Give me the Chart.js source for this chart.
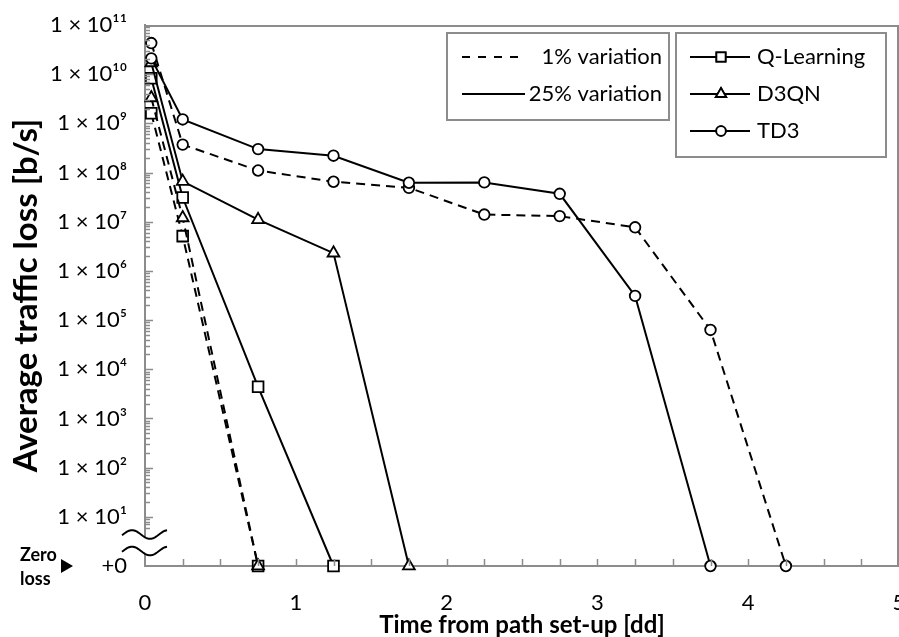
<!DOCTYPE html>
<html><head><meta charset="utf-8">
<script src="https://cdn.jsdelivr.net/npm/chart.js@4.4.1/dist/chart.umd.min.js"></script>
<style>
html,body{margin:0;padding:0;background:#fff;overflow:hidden;width:899px;height:637px;}
#wrap{position:relative;width:920px;height:637px;}
</style></head><body>
<div id="wrap"><canvas id="c"></canvas></div>
<script>
// ---- data (x in days, y in b/s; 0 = zero loss) ----
const timeDays = [1/24, 0.25, 0.75, 1.25, 1.75, 2.25, 2.75, 3.25, 3.75, 4.25];
const td3Var25 = [2.1e10, 1.2e9, 3.0e8, 2.2e8, 6.2e7, 6.3e7, 3.7e7, 3.1e5, 0];
const td3Var1  = [4.3e10, 3.7e8, 1.1e8, 6.5e7, 4.9e7, 1.4e7, 1.3e7, 7.7e6, 6.3e4, 0];
const d3qnVar25 = [1.7e10, 6.6e7, 1.1e7, 2.3e6, 0];
const d3qnVar1  = [3.3e9, 1.2e7, 0];
const qlVar25 = [8.3e9, 3.1e7, 4.4e3, 0];
const qlVar1  = [1.6e9, 5.1e6, 0];
const yTickExponents = [0,1,2,3,4,5,6,7,8,9,10,11];
const xTickValues = [0,1,2,3,4,5];
const seriesNames = ['Q-Learning','D3QN','TD3'];
const variationNames = ['1% variation','25% variation'];
const xTitle = 'Time from path set-up [dd]';
const yTitle = 'Average traffic loss [b/s]';

const ZERO_LEVEL = 1; // "+0" row of the log axis
const FONT = "Lato, 'DejaVu Sans', sans-serif";
const SUP = '⁰¹²³⁴⁵⁶⁷⁸⁹';
function sup(n){ return String(n).split('').map(d=>SUP[+d]).join(''); }
function pts(vals){ return vals.map((v,i)=>({x: timeDays[i], y: v===0 ? ZERO_LEVEL : v})); }

const DASH = [9,6];
function ds(label, vals, style, radius, dashed){
  return {label, data: pts(vals), borderColor:'#000', borderWidth:2, borderDash: dashed?DASH:[],
    pointStyle: style, pointRadius: radius, pointHoverRadius: radius, pointBackgroundColor:'#fff',
    pointBorderColor:'#000', pointBorderWidth:1.8, tension:0, fill:false, clip:false};
}

const decor = {
  id:'decor',
  afterDraw(chart){
    const ctx = chart.ctx, a = chart.chartArea, xs = chart.scales.x, ys = chart.scales.y;
    ctx.save();
    // top/right frame
    ctx.strokeStyle = '#8c8c8c'; ctx.lineWidth = 2;
    ctx.beginPath(); ctx.moveTo(a.left, a.top+1); ctx.lineTo(a.right-1, a.top+1); ctx.lineTo(a.right-1, a.bottom); ctx.stroke();
    // inward x ticks every 0.25
    ctx.lineWidth = 1.5;
    for (let v = 0.25; v < 5; v += 0.25){
      const px = Math.round(xs.getPixelForValue(v)) + 0.5;
      ctx.beginPath(); ctx.moveTo(px, a.bottom); ctx.lineTo(px, a.bottom-7); ctx.stroke();
    }
    // inward y ticks (log major + minor)
    for (let e = 0; e < 11; e++){
      for (let m = 1; m <= 9; m++){
        const v = m*Math.pow(10,e);
        if (e===0 && m<6) continue;
        const py = Math.round(ys.getPixelForValue(v)) + 0.5;
        const len = m===1 ? 8 : 5;
        ctx.beginPath(); ctx.moveTo(a.left, py); ctx.lineTo(a.left+len, py); ctx.stroke();
      }
    }
    // axis break squiggles
    const L = a.left, B = a.bottom;
    function wave(c){ const p=[]; for(let x=L-23; x<=L+22; x+=1){ p.push([x, c - 4.3*Math.sin(2*Math.PI*(x-(L-22))/36)]); } return p; }
    const up = wave(B-31.5), lo = wave(B-15);
    ctx.fillStyle = '#fff';
    ctx.beginPath(); up.forEach((q,i)=> i?ctx.lineTo(q[0],q[1]):ctx.moveTo(q[0],q[1]));
    for (let i=lo.length-1;i>=0;i--) ctx.lineTo(lo[i][0],lo[i][1]);
    ctx.closePath(); ctx.fill();
    ctx.strokeStyle = '#000'; ctx.lineWidth = 2;
    [up,lo].forEach(w=>{ ctx.beginPath(); w.forEach((q,i)=> i?ctx.lineTo(q[0],q[1]):ctx.moveTo(q[0],q[1])); ctx.stroke(); });
    // "Zero loss" marker
    ctx.fillStyle = '#000';
    ctx.font = "bold 18px " + FONT; ctx.textAlign = 'left'; ctx.textBaseline = 'middle';
    ctx.fillText('Zero', 20, B-11);
    ctx.fillText('loss', 20, B+13);
    ctx.beginPath(); ctx.moveTo(61, B-7); ctx.lineTo(73, B); ctx.lineTo(61, B+7); ctx.closePath(); ctx.fill();
    // legend boxes
    ctx.strokeStyle = '#8c8c8c'; ctx.lineWidth = 2;
    ctx.strokeRect(447, 33, 222, 87);
    ctx.strokeRect(676, 33, 210, 124);
    ctx.font = "22px " + FONT; ctx.textBaseline = 'middle';
    ctx.strokeStyle = '#000'; ctx.lineWidth = 2;
    // variation legend
    ctx.setLineDash([8,8]);
    ctx.beginPath(); ctx.moveTo(462, 57); ctx.lineTo(521, 57); ctx.stroke();
    ctx.setLineDash([]);
    ctx.beginPath(); ctx.moveTo(462, 94); ctx.lineTo(525, 94); ctx.stroke();
    ctx.textAlign = 'right';
    ctx.fillText(variationNames[0], 662, 57);
    ctx.fillText(variationNames[1], 662, 94);
    // algorithm legend
    const rows = [57, 94, 131];
    const styles = ['rect','triangle','circle'];
    const radii = [6.5, 6, 4.8];
    rows.forEach((y,i)=>{
      ctx.strokeStyle = '#000'; ctx.lineWidth = 2;
      ctx.beginPath(); ctx.moveTo(690, y); ctx.lineTo(750, y); ctx.stroke();
      ctx.fillStyle = '#fff'; ctx.lineWidth = 1.8;
      Chart.helpers.drawPoint(ctx, {pointStyle: styles[i], radius: radii[i], borderWidth:1.8}, 721, y);
      ctx.fill(); ctx.stroke();
      ctx.fillStyle = '#000'; ctx.textAlign = 'left';
      ctx.fillText(seriesNames[i], 757, y);
    });
    ctx.restore();
  }
};

const TARGET = {top:25, right:899};
function build(){
  const chart = new Chart(document.getElementById('c'), {
    type:'line',
    data:{ datasets:[
      ds('TD3 25% variation', td3Var25, 'circle', 5.3, false),
      ds('TD3 1% variation', td3Var1, 'circle', 5.3, true),
      ds('D3QN 25% variation', d3qnVar25, 'triangle', 6.8, false),
      ds('D3QN 1% variation', d3qnVar1, 'triangle', 6.8, true),
      ds('Q-Learning 25% variation', qlVar25, 'rect', 7.6, false),
      ds('Q-Learning 1% variation', qlVar1, 'rect', 7.6, true)
    ]},
    options:{
      responsive:true, maintainAspectRatio:false, animation:false, devicePixelRatio:1,
      layout:{padding:{top:25, right:21, left:0, bottom:0}},
      plugins:{legend:{display:false}, tooltip:{enabled:false}},
      events:[],
      scales:{
        x:{ type:'linear', min:0, max:5,
          afterBuildTicks: s => { s.ticks = xTickValues.map(v=>({value:v})); },
          ticks:{ color:'#000', font:{family:FONT, size:22}, padding:24, maxRotation:0, autoSkip:false,
                  callback: v => String(v) },
          grid:{ display:true, drawOnChartArea:false, drawTicks:false },
          border:{ color:'#8c8c8c', width:2 },
          title:{ display:true, text:xTitle, color:'#000', font:{family:FONT, size:24, weight:'bold'}, padding:{top:0,bottom:-3} },
          afterFit: s => { s.height = 71; s.paddingLeft = 0; s.paddingRight = 0; }
        },
        y:{ type:'logarithmic', min:ZERO_LEVEL, max:1e11,
          afterBuildTicks: s => { s.ticks = yTickExponents.map(e=>({value:Math.pow(10,e)})); },
          ticks:{ color:'#000', font:{family:FONT, size:22}, padding:18, autoSkip:false,
                  callback: v => { const e = Math.round(Math.log10(v)); return e===0 ? '+0' : '1 × 10' + sup(e); } },
          grid:{ display:true, drawOnChartArea:false, drawTicks:false },
          border:{ color:'#8c8c8c', width:2 },
          title:{ display:true, text:yTitle, color:'#000', font:{family:FONT, size:33, weight:'bold'}, padding:{top:7,bottom:0} },
          afterFit: s => { s.width = 145; s.paddingTop = 0; s.paddingBottom = 0; }
        }
      }
    },
    plugins:[decor]
  });
  // settle the plot area onto the intended frame
  for (let k=0; k<4; k++){
    const a = chart.chartArea;
    const dt = TARGET.top - a.top, dr = a.right - TARGET.right;
    if (Math.abs(dt) < 0.5 && Math.abs(dr) < 0.5) break;
    const p = chart.config.options.layout.padding;
    chart.config.options.layout.padding = {top: p.top + dt, right: p.right + dr, left:0, bottom:0};
    chart.update();
  }
}
if (document.fonts && document.fonts.load) {
  Promise.all([document.fonts.load("22px Lato"), document.fonts.load("bold 27px Lato")]).then(build, build);
} else build();
</script>
</body></html>
